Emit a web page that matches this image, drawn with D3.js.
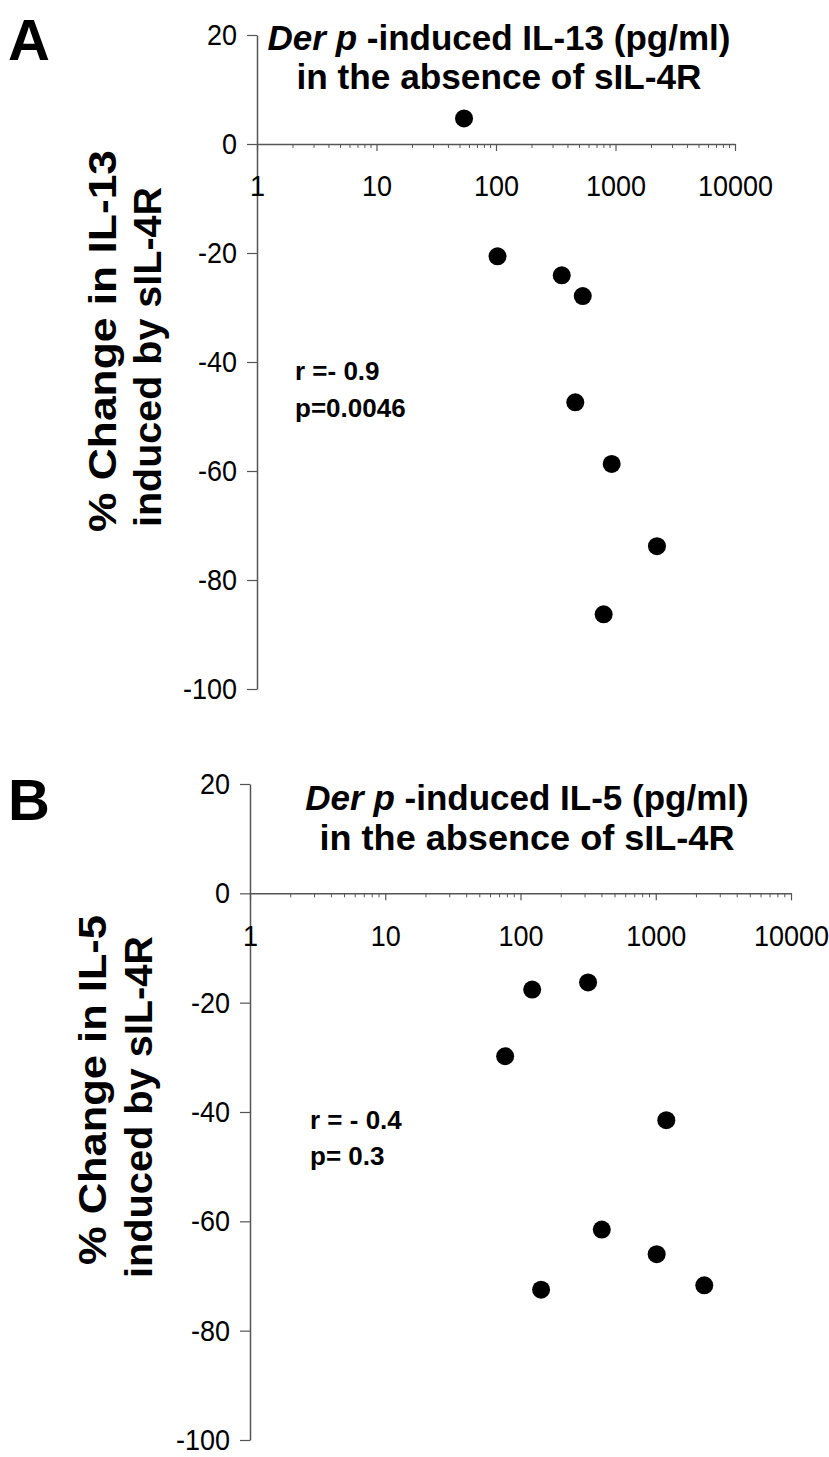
<!DOCTYPE html>
<html lang="en">
<head>
<meta charset="UTF-8">
<title>Der p-induced cytokines vs sIL-4R effect</title>
<script src="https://d3js.org/d3.v7.min.js"></script>
<style>
    body { margin: 0; background: #fff; }
    svg text { font-family: 'Liberation Sans', Arial, sans-serif; fill: #000; }
</style>
</head>
<body>
<svg id="chart" width="829" height="1457"></svg>
<script>
// Panel A - IL-13 (pg/ml) without sIL-4R vs % change with sIL-4R
const il13Level = [54, 103, 355, 532, 461, 929, 2223, 796];
const il13Change = [4.7, -20.6, -24.1, -27.9, -47.4, -58.7, -73.8, -86.3];

// Panel B - IL-5
const il5Level = [122, 316, 77, 1197, 399, 1016, 142, 2285];
const il5Change = [-17.6, -16.3, -29.8, -41.5, -61.5, -66, -72.5, -71.7];

const yTicks = [20, 0, -20, -40, -60, -80, -100];
const xTicks = [1, 10, 100, 1000, 10000];

const svg = d3.select("#chart");
const axisColor = "#555";
const squeeze = 0.9; // tick labels look a bit narrow

const panels = [
    {
        letter: "A", letterY: 60,
        left: 257, right: 735, top: 35, bottom: 689,
        xs: il13Level, ys: il13Change,
        title: " -induced IL-13 (pg/ml)", titleX: 499, titleY: [50, 89], title2Len: 405,
        yLabel: ["% Change in IL-13", "induced by sIL-4R"],
        yLabelX: [116, 161], yLabelY: [532, 527], yLabelLen: [382, 340],
        stats: ["r =- 0.9", "p=0.0046"], statsX: 295, statsY: [380, 417]
    },
    {
        letter: "B", letterY: 820,
        left: 250, right: 791, top: 784, bottom: 1440,
        xs: il5Level, ys: il5Change,
        title: " -induced IL-5 (pg/ml)", titleX: 527, titleY: [810, 850], title2Len: 415,
        yLabel: ["% Change in IL-5", "induced by sIL-4R"],
        yLabelX: [106, 152], yLabelY: [1265, 1278], yLabelLen: [350, 342],
        stats: ["r = - 0.4", "p= 0.3"], statsX: 310, statsY: [1129, 1165]
    }
];

function drawPanel(p) {
    const x = d3.scaleLog().domain([1, 10000]).range([p.left, p.right]);
    const y = d3.scaleLinear().domain([-100, 20]).range([p.bottom, p.top]);
    const g = svg.append("g");

    // y axis
    const yAxis = g.append("g")
        .attr("transform", `translate(${p.left},0)`)
        .call(d3.axisLeft(y).tickValues(yTicks).tickSize(10).tickSizeOuter(0).tickFormat(d => String(d)));
    yAxis.select(".domain").attr("stroke", axisColor).attr("stroke-width", 1.5);
    yAxis.selectAll(".tick line").attr("stroke", axisColor).attr("stroke-width", 1.2);
    yAxis.selectAll(".tick text")
        .attr("font-size", 30)
        .attr("font-family", "'Liberation Sans', Arial, sans-serif")
        .attr("x", -20 / squeeze)
        .attr("transform", `scale(${squeeze},1)`);

    // x axis sits on y = 0
    const xAxis = g.append("g")
        .attr("transform", `translate(0,${y(0)})`)
        .call(d3.axisBottom(x).tickValues(xTicks).tickSize(7).tickSizeOuter(0).tickPadding(24).tickFormat(d => String(d)));
    xAxis.select(".domain").attr("stroke", axisColor).attr("stroke-width", 1.5);
    xAxis.selectAll(".tick line").attr("stroke", axisColor).attr("stroke-width", 1.2);
    xAxis.selectAll(".tick text")
        .attr("font-size", 30)
        .attr("font-family", "'Liberation Sans', Arial, sans-serif")
        .attr("transform", `scale(${squeeze},1)`)
        .attr("x", 0);

    // minor log ticks
    const minor = x.ticks().filter(v => !xTicks.includes(v));
    g.append("g").selectAll("line")
        .data(minor)
        .join("line")
        .attr("x1", d => x(d)).attr("x2", d => x(d))
        .attr("y1", y(0)).attr("y2", y(0) + 4)
        .attr("stroke", axisColor)
        .attr("stroke-width", 1);

    // points
    g.append("g").selectAll("circle")
        .data(p.xs.map((v, i) => [v, p.ys[i]]))
        .join("circle")
        .attr("cx", d => x(d[0]))
        .attr("cy", d => y(d[1]))
        .attr("r", 9)
        .attr("fill", "#000");

    // title
    const t1 = g.append("text")
        .attr("x", p.titleX).attr("y", p.titleY[0])
        .attr("text-anchor", "middle")
        .attr("font-size", 35)
        .attr("font-weight", "bold");
    t1.append("tspan").attr("font-style", "italic").text("Der p");
    t1.append("tspan").text(p.title);

    g.append("text")
        .attr("x", p.titleX).attr("y", p.titleY[1])
        .attr("text-anchor", "middle")
        .attr("font-size", 35)
        .attr("font-weight", "bold")
        .attr("textLength", p.title2Len)
        .attr("lengthAdjust", "spacingAndGlyphs")
        .text("in the absence of sIL-4R");

    // y label, two lines rotated
    p.yLabel.forEach((txt, i) => {
        g.append("text")
            .attr("transform", `translate(${p.yLabelX[i]},${p.yLabelY[i]}) rotate(-90)`)
            .attr("font-size", 38)
            .attr("font-weight", "bold")
            .attr("textLength", p.yLabelLen[i])
            .attr("lengthAdjust", "spacingAndGlyphs")
            .text(txt);
    });

    // stats
    p.stats.forEach((txt, i) => {
        g.append("text")
            .attr("x", p.statsX).attr("y", p.statsY[i])
            .attr("font-size", 26)
            .attr("font-weight", "bold")
            .text(txt);
    });

    // panel letter
    g.append("text")
        .attr("x", 8).attr("y", p.letterY)
        .attr("font-size", 58)
        .attr("font-weight", "bold")
        .text(p.letter);
}

panels.forEach(drawPanel);
</script>
</body>
</html>
